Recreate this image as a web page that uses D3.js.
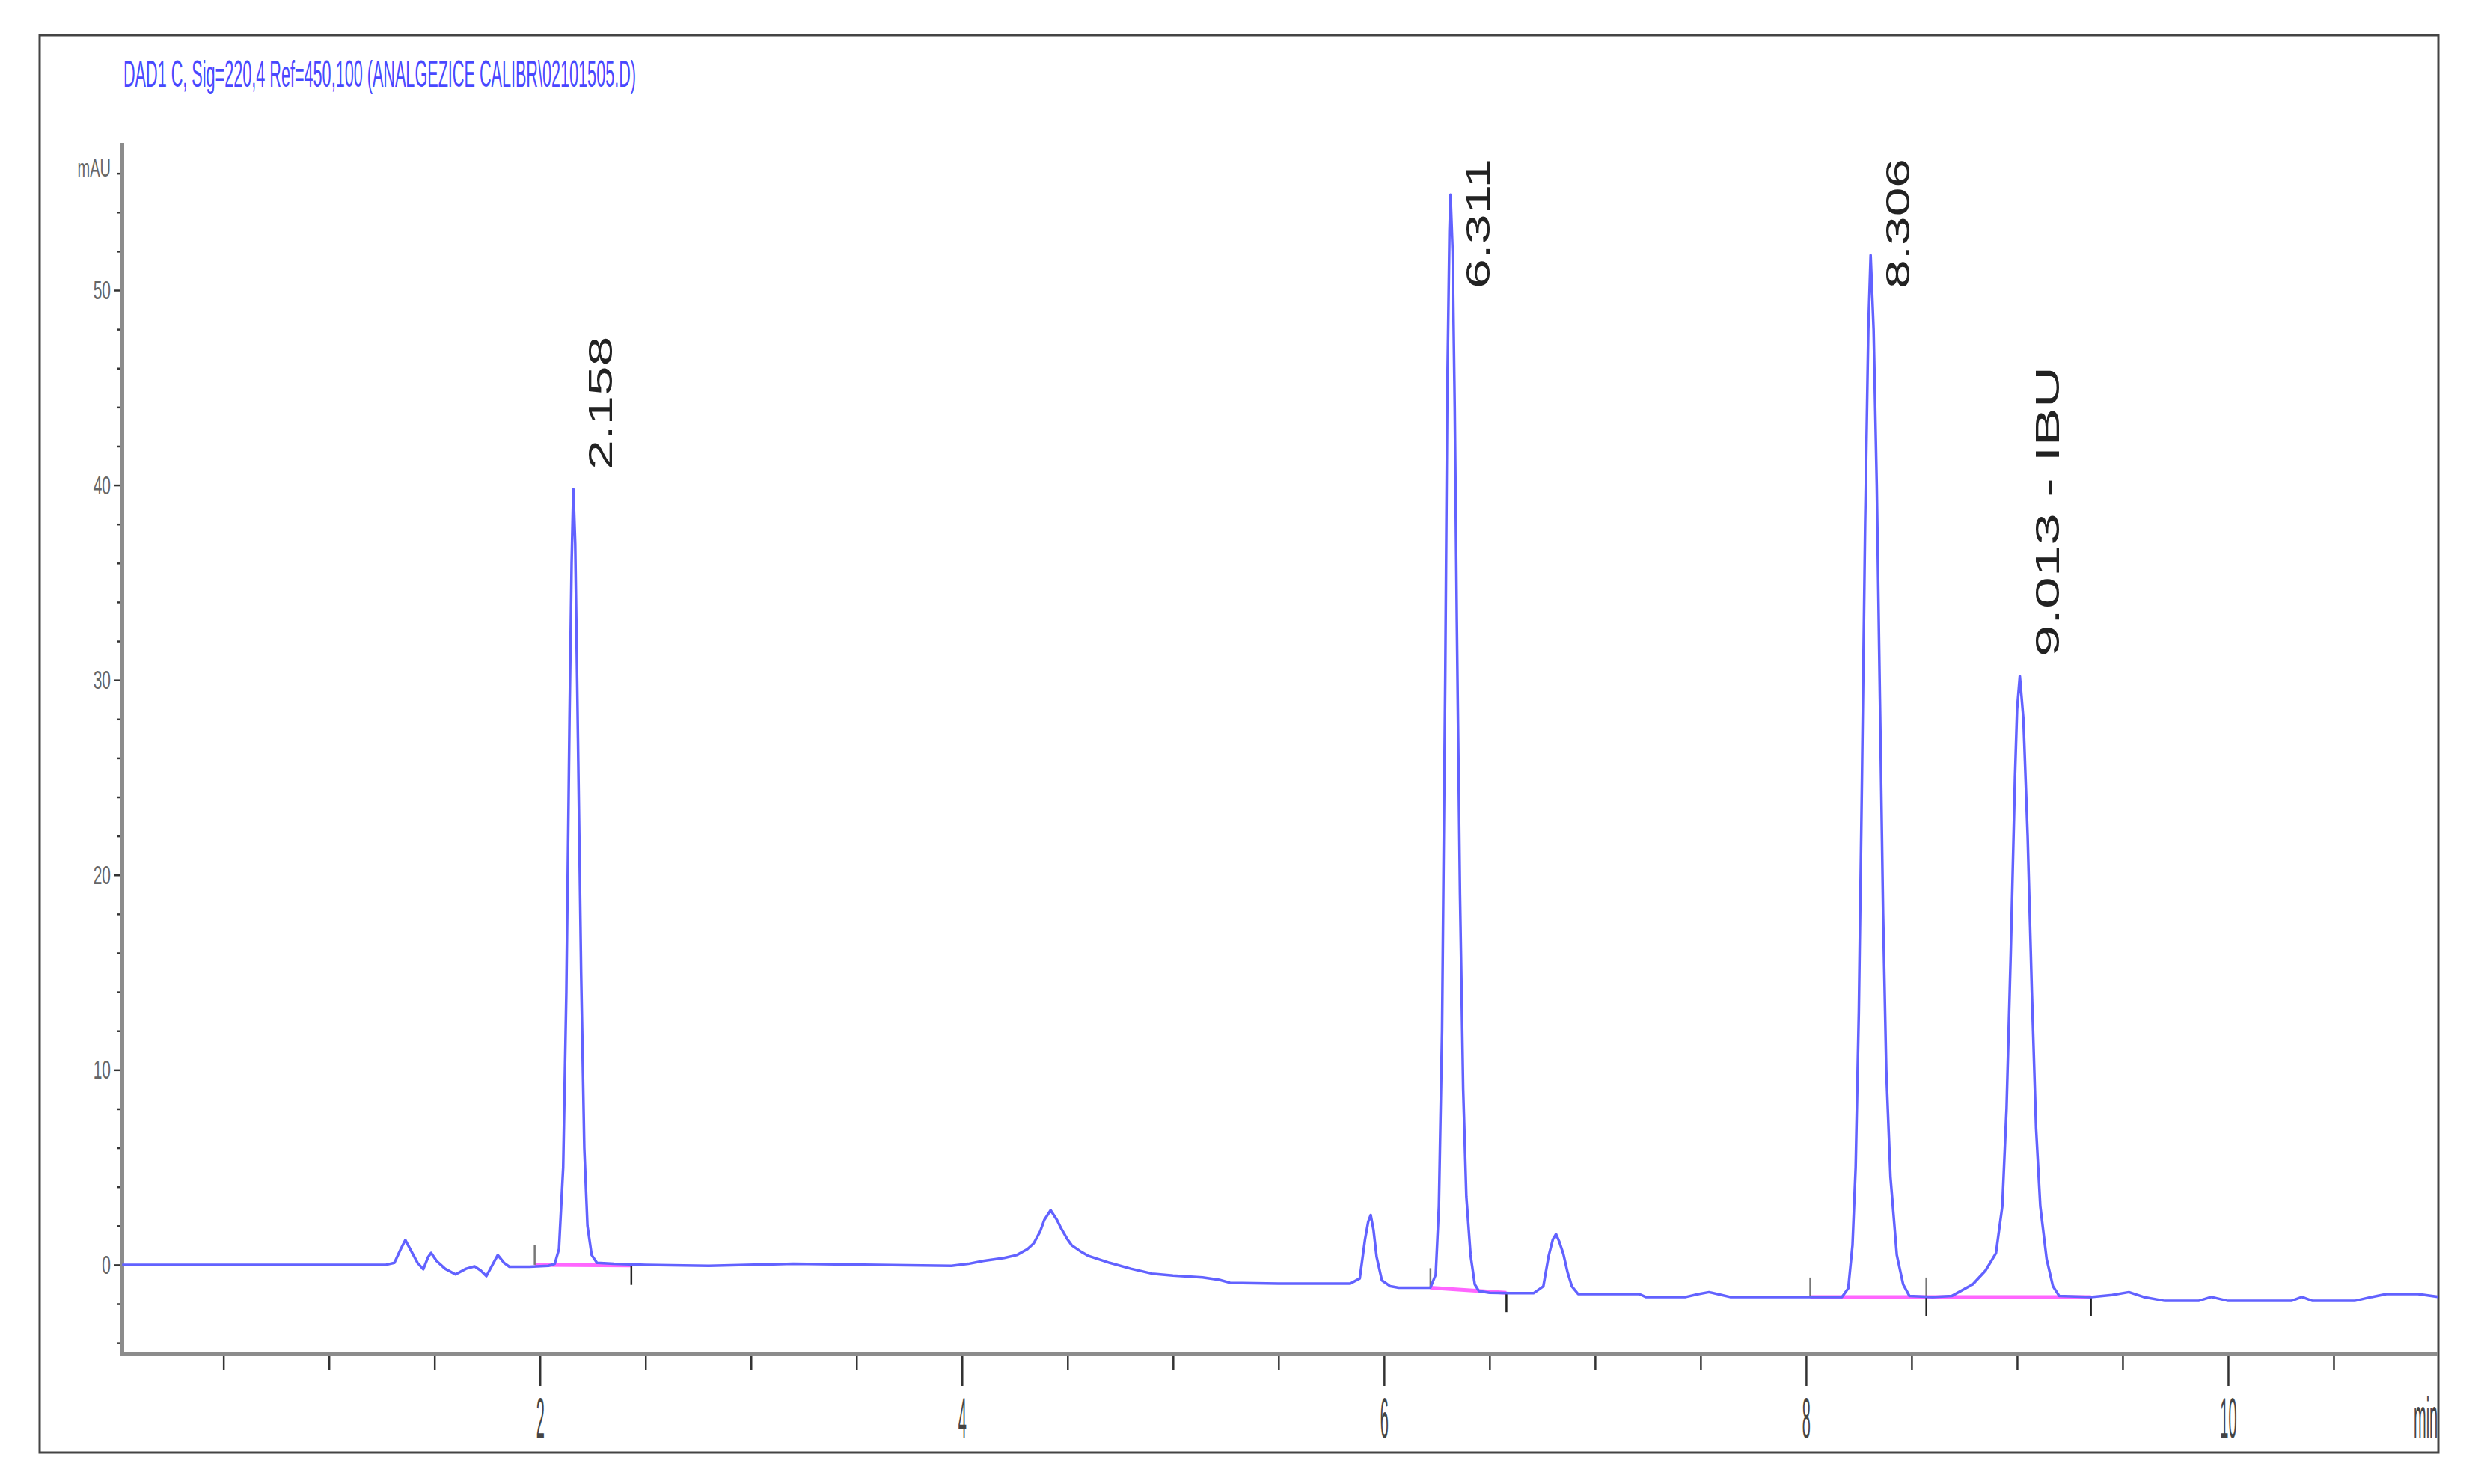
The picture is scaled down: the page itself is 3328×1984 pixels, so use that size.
<!DOCTYPE html>
<html lang="en">
<head>
    <meta charset="UTF-8">
    <title>DAD1 C chromatogram</title>
    <style>
        body {
            margin: 0;
            background: #fff;
        }
        text {
            font-family: "Liberation Sans", Arial, sans-serif;
        }
    </style>
    <script src="https://d3js.org/d3.v7.min.js"></script>
</head>
<body>
    <script>
        const SVG_WIDTH = 3328;
        const SVG_HEIGHT = 1984;
        const AXIS_LEFT = 163;
        const AXIS_RIGHT = 3260;
        const AXIS_TOP = 191;
        const AXIS_BOTTOM = 1810;

        const title = "DAD1 C, Sig=220,4 Ref=450,100 (ANALGEZICE CALIBR\\02101505.D)";

        // retention time (min) and signal (mAU)
        const timeMin = [
            0.02, 0.5, 1.0, 1.27, 1.31, 1.34, 1.362, 1.39, 1.42, 1.447, 1.47, 1.484, 1.51, 1.55, 1.60, 1.65, 1.69, 1.72, 1.746, 1.775, 1.80, 1.83, 1.855, 1.95, 2.04,
            2.07, 2.09, 2.11, 2.125, 2.14, 2.15, 2.158, 2.167, 2.18, 2.195, 2.21, 2.225, 2.245, 2.27,
            2.35, 2.5, 2.8, 3.2, 3.6, 3.95,
            4.03, 4.1, 4.2, 4.26, 4.31, 4.34, 4.37, 4.39, 4.42, 4.45, 4.47, 4.50, 4.52, 4.56, 4.60, 4.70, 4.80, 4.90, 5.0, 5.14, 5.22, 5.27, 5.5, 5.84,
            5.885, 5.91, 5.925, 5.937, 5.95, 5.965, 5.99, 6.03, 6.07, 6.2,
            6.22, 6.245, 6.26, 6.275, 6.29, 6.30, 6.31, 6.315, 6.325, 6.335, 6.345, 6.36, 6.375, 6.39, 6.41, 6.43, 6.45, 6.5, 6.6, 6.71,
            6.755, 6.78, 6.8, 6.815, 6.83, 6.85, 6.87, 6.89, 6.92, 7.0, 7.21, 7.24, 7.43, 7.49, 7.54, 7.6, 7.64, 8.0, 8.17,
            8.2, 8.22, 8.235, 8.25, 8.265, 8.28, 8.295, 8.306, 8.32, 8.335, 8.35, 8.365, 8.38, 8.40, 8.43, 8.46, 8.49, 8.6, 8.69,
            8.79, 8.85, 8.9, 8.93, 8.95, 8.97, 8.99, 9.0, 9.013, 9.03, 9.05, 9.07, 9.09, 9.11, 9.14, 9.17, 9.2,
            9.35, 9.45, 9.53, 9.6, 9.7, 9.86, 9.92, 10.0, 10.3, 10.35, 10.4, 10.6, 10.68, 10.75, 10.9, 11.0
        ];
        const signalMAU = [
            0, 0, 0, 0, 0.1, 0.8, 1.27, 0.7, 0.1, -0.23, 0.4, 0.61, 0.2, -0.2, -0.49, -0.2, -0.08, -0.3, -0.58, 0.0, 0.5, 0.1, -0.1, -0.1, -0.05,
            0.05, 0.8, 5, 14, 28, 36, 39.8, 37, 27, 15, 6, 2, 0.5, 0.1,
            0.05, 0.0, -0.05, 0.05, 0.0, -0.05,
            0.05, 0.2, 0.35, 0.5, 0.8, 1.1, 1.7, 2.3, 2.8, 2.3, 1.86, 1.3, 1.0, 0.7, 0.45, 0.1, -0.2, -0.45, -0.55, -0.65, -0.77, -0.92, -0.96, -0.96,
            -0.7, 1.3, 2.2, 2.55, 1.8, 0.4, -0.8, -1.1, -1.17, -1.17,
            -1.17, -0.5, 3, 12, 30, 45, 53, 54.9, 52, 44, 33, 19, 9, 3.5, 0.5, -1.0, -1.35, -1.43, -1.45, -1.45,
            -1.1, 0.45, 1.3, 1.57, 1.2, 0.55, -0.4, -1.1, -1.5, -1.5, -1.5, -1.65, -1.65, -1.5, -1.4, -1.55, -1.65, -1.65, -1.65,
            -1.2, 1, 5, 13, 25, 38, 48, 51.8, 48, 40, 29, 18, 10, 4.5, 0.5, -1.0, -1.6, -1.65, -1.6,
            -1.0, -0.3, 0.6, 3, 8, 16, 25, 28.5, 30.2, 28, 22, 14, 7, 3, 0.3, -1.1, -1.6,
            -1.65, -1.55, -1.4, -1.65, -1.85, -1.85, -1.65, -1.85, -1.85, -1.65, -1.85, -1.85, -1.65, -1.5, -1.5, -1.65
        ];

        // integrated peaks
        const peakTimes = [2.158, 6.315, 8.306, 9.013];
        const peakHeights = [39.8, 54.9, 51.8, 30.2];
        const peakLabels = ["2.158", "6.311", "8.306", "9.013 - IBU"];
        const labelLengths = [178, 174, 174, 388];
        const integStart = [1.975, 6.22, 8.02, 8.57];
        const integStartVal = [0, -1.17, -1.65, -1.65];
        const integEnd = [2.433, 6.58, 8.57, 9.35];
        const integEndVal = [-0.03, -1.43, -1.65, -1.65];

        const xTicks = [2, 4, 6, 8, 10];
        const yTicks = [0, 10, 20, 30, 40, 50];

        const svg = d3.select("body").append("svg")
            .attr("width", SVG_WIDTH)
            .attr("height", SVG_HEIGHT);

        svg.append("defs").append("clipPath").attr("id", "frame-clip")
            .append("rect")
            .attr("x", 53).attr("y", 47)
            .attr("width", 3205).attr("height", 1895);

        // outer frame
        svg.append("rect")
            .attr("x", 53).attr("y", 47)
            .attr("width", 3206).attr("height", 1895)
            .attr("fill", "none")
            .attr("stroke", "#444")
            .attr("stroke-width", 3);

        svg.append("text")
            .attr("transform", "translate(165,116) scale(1,2.1)")
            .attr("font-size", 24)
            .attr("fill", "#4848ff")
            .attr("textLength", 685)
            .attr("lengthAdjust", "spacingAndGlyphs")
            .text(title);

        const x = d3.scaleLinear().domain([0.019, 11]).range([AXIS_LEFT, AXIS_RIGHT]);
        const y = d3.scaleLinear().domain([-4.57, 57.56]).range([AXIS_BOTTOM, AXIS_TOP]);

        const plot = svg.append("g").attr("clip-path", "url(#frame-clip)");

        // ticks
        const minorX = d3.range(0.5, 11.01, 0.5).filter(v => v % 2 !== 0);
        const minorY = d3.range(-4, 57, 2).filter(v => v % 10 !== 0);

        const xMinor = plot.append("g")
            .attr("transform", `translate(0,${AXIS_BOTTOM})`)
            .call(d3.axisBottom(x).tickValues(minorX).tickSize(22).tickFormat(""));
        const xMajor = plot.append("g")
            .attr("transform", `translate(0,${AXIS_BOTTOM})`)
            .call(d3.axisBottom(x).tickValues(xTicks).tickSize(43).tickFormat(d3.format("d")));
        const yMinor = plot.append("g")
            .attr("transform", `translate(${AXIS_LEFT},0)`)
            .call(d3.axisLeft(y).tickValues(minorY).tickSize(7).tickFormat(""));
        const yMajor = plot.append("g")
            .attr("transform", `translate(${AXIS_LEFT},0)`)
            .call(d3.axisLeft(y).tickValues(yTicks).tickSize(11).tickFormat(d3.format("d")));

        [xMinor, xMajor, yMinor, yMajor].forEach(g => {
            g.select(".domain").remove();
            g.selectAll("line").attr("stroke", "#333").attr("stroke-width", 2.5);
        });

        xMajor.selectAll("text")
            .attr("y", 0)
            .attr("dy", "0.72em")
            .attr("transform", "translate(0,57) scale(1,3.8)")
            .attr("font-size", 20)
            .attr("fill", "#444");

        yMajor.selectAll("text")
            .attr("x", -15)
            .attr("transform", "scale(1,1.7)")
            .attr("font-size", 21)
            .attr("fill", "#666");

        // axis lines
        plot.append("path")
            .attr("d", `M${AXIS_LEFT},${AXIS_TOP}V${AXIS_BOTTOM}H${AXIS_RIGHT}`)
            .attr("fill", "none")
            .attr("stroke", "#8c8c8c")
            .attr("stroke-width", 6);

        plot.append("text")
            .attr("transform", "translate(148,236) scale(1,1.7)")
            .attr("text-anchor", "end")
            .attr("font-size", 20)
            .attr("fill", "#666")
            .text("mAU");

        plot.append("text")
            .attr("transform", "translate(3226,1867) scale(1,3.8)")
            .attr("dy", "0.72em")
            .attr("font-size", 20)
            .attr("fill", "#444")
            .text("min");

        // integration baselines
        plot.selectAll(".base")
            .data(peakTimes)
            .enter()
            .append("line")
            .attr("x1", (d, i) => x(integStart[i]))
            .attr("y1", (d, i) => y(integStartVal[i]))
            .attr("x2", (d, i) => x(integEnd[i]))
            .attr("y2", (d, i) => y(integEndVal[i]))
            .attr("stroke", "#ff66ff")
            .attr("stroke-width", 5);

        // peak start (up) and end (down) marks
        plot.selectAll(".start-mark")
            .data(integStart)
            .enter()
            .append("line")
            .attr("x1", d => x(d)).attr("x2", d => x(d))
            .attr("y1", (d, i) => y(integStartVal[i]))
            .attr("y2", (d, i) => y(integStartVal[i]) - 26)
            .attr("stroke", "#777")
            .attr("stroke-width", 2.5);
        plot.selectAll(".end-mark")
            .data(integEnd)
            .enter()
            .append("line")
            .attr("x1", d => x(d)).attr("x2", d => x(d))
            .attr("y1", (d, i) => y(integEndVal[i]))
            .attr("y2", (d, i) => y(integEndVal[i]) + 26)
            .attr("stroke", "#222")
            .attr("stroke-width", 2.5);

        // signal trace
        const points = timeMin.map((t, i) => [t, signalMAU[i]]);
        plot.append("path")
            .datum(points)
            .attr("d", d3.line().x(d => x(d[0])).y(d => y(d[1])))
            .attr("fill", "none")
            .attr("stroke", "#6262ff")
            .attr("stroke-width", 3.5)
            .attr("stroke-linejoin", "round");

        // retention time labels, rotated
        plot.selectAll(".peak-label")
            .data(peakLabels)
            .enter()
            .append("text")
            .attr("transform", (d, i) => {
                const len = labelLengths[i];
                let bottom = y(peakHeights[i]) - 26;
                if (bottom - len < 212) bottom = 212 + len;
                return `translate(${x(peakTimes[i]) + 52},${bottom}) rotate(-90)`;
            })
            .attr("font-size", 44)
            .attr("fill", "#222")
            .attr("textLength", (d, i) => labelLengths[i])
            .attr("lengthAdjust", "spacingAndGlyphs")
            .text(d => d);
    </script>
</body>
</html>
